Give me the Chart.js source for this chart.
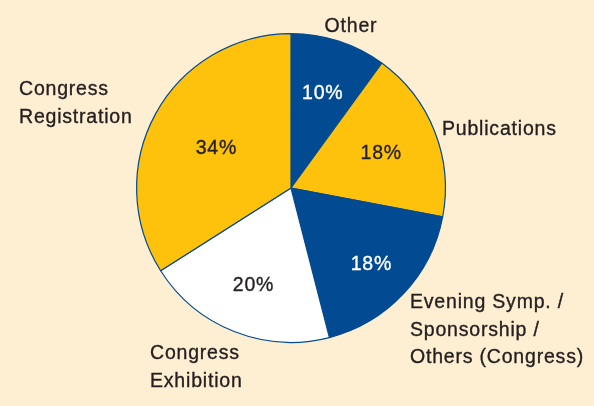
<!DOCTYPE html>
<html>
<head>
<meta charset="utf-8">
<script src="https://cdn.jsdelivr.net/npm/chart.js@4.4.1/dist/chart.umd.min.js"></script>
<style>
  html, body { margin: 0; padding: 0; background: #feeed2; }
  #wrap { width: 594px; height: 406px; }
</style>
</head>
<body>
<div id="wrap"><canvas id="revenueChart" width="594" height="406"></canvas></div>
<script>
// slices, clockwise from 12 o'clock
const categories = ['Other', 'Publications', 'Evening Symp. / Sponsorship / Others (Congress)', 'Congress Exhibition', 'Congress Registration'];
const shares = [10, 18, 18, 20, 34];

const YELLOW = '#fec20c';
const BLUE = '#024a91';
const TEXT = '#231f20';
const sliceColors = [BLUE, YELLOW, BLUE, '#ffffff', YELLOW];
const pctColors = ['#ffffff', TEXT, '#ffffff', TEXT, TEXT];
// how far out from the centre each percentage sits (fraction of radius)
const pctRadius = [0.655, 0.625, 0.71, 0.668, 0.555];

// outside labels: lines, anchor and alignment
const outerLabels = [
    { lines: ['Other'], x: 351, y: 32, align: 'center' },
    { lines: ['Publications'], x: 442, y: 135, align: 'left' },
    { lines: ['Evening Symp. /', 'Sponsorship /', 'Others (Congress)'], x: 410, y: 308, align: 'left' },
    { lines: ['Congress', 'Exhibition'], x: 150, y: 359, align: 'left' },
    { lines: ['Congress', 'Registration'], x: 19, y: 95, align: 'left' }
];

const FONT = '19.5px "Liberation Sans", Arial, Helvetica, sans-serif';

function heavyText(ctx, txt, x, y) {
    // thin stroke to get the slightly heavier print look of the original
    ctx.strokeStyle = ctx.fillStyle;
    ctx.lineWidth = 0.35;
    ctx.strokeText(txt, x, y);
    ctx.fillText(txt, x, y);
}

const labelPlugin = {
    id: 'pieLabels',
    afterDatasetsDraw(chart) {
        const ctx = chart.ctx;
        const meta = chart.getDatasetMeta(0);
        ctx.save();
        ctx.font = FONT;
        if ('letterSpacing' in ctx) ctx.letterSpacing = '0.8px';
        ctx.textBaseline = 'alphabetic';
        meta.data.forEach(function(arc, i) {
            const mid = (arc.startAngle + arc.endAngle) / 2;
            const r = arc.outerRadius * pctRadius[i];
            const x = arc.x + Math.cos(mid) * r;
            const y = arc.y + Math.sin(mid) * r;
            ctx.fillStyle = pctColors[i];
            ctx.textAlign = 'center';
            heavyText(ctx, shares[i] + '%', x + 0.5, y + 7);
        });
        outerLabels.forEach(function(lab) {
            ctx.textAlign = lab.align;
            lab.lines.forEach(function(line, j) {
                ctx.fillStyle = TEXT;
                heavyText(ctx, line, lab.x, lab.y + j * 27.5);
            });
        });
        ctx.restore();
    }
};

function initializeChart() {
    const ctx = document.getElementById('revenueChart').getContext('2d');
    new Chart(ctx, {
        type: 'pie',
        data: {
            labels: categories,
            datasets: [{
                data: shares,
                backgroundColor: sliceColors,
                borderColor: BLUE,
                borderWidth: 1.2
            }]
        },
        options: {
            responsive: false,
            animation: false,
            devicePixelRatio: 1,
            layout: {
                padding: { left: 136, right: 148, top: 33, bottom: 63 }
            },
            plugins: {
                legend: { display: false },
                tooltip: { enabled: false }
            },
            events: []
        },
        plugins: [labelPlugin]
    });
}

if (document.readyState === 'loading') {
    document.addEventListener('DOMContentLoaded', initializeChart);
} else {
    initializeChart();
}
</script>
</body>
</html>
